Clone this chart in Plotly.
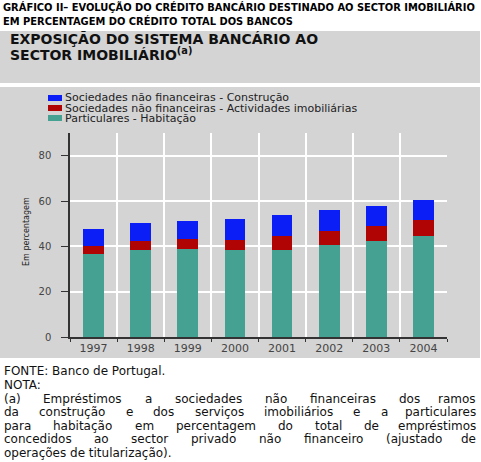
import plotly.graph_objects as go

years = ['1997', '1998', '1999', '2000', '2001', '2002', '2003', '2004']
particulares = [36.7, 38.4, 38.9, 38.5, 38.4, 40.6, 42.5, 44.4]
actividades = [3.4, 3.9, 4.5, 4.3, 6.2, 6.0, 6.6, 7.2]
construcao = [7.6, 8.1, 7.8, 9.1, 9.4, 9.3, 8.9, 8.7]
series_names = ['Particulares - Habitação',
                'Sociedades não financeiras - Actividades imobiliárias',
                'Sociedades não financeiras - Construção']
colors = ['#45a192', '#b00404', '#0a1ef5']
y_ticks = [0, 20, 40, 60, 80]

title_lines = ['GRÁFICO II– EVOLUÇÃO DO CRÉDITO BANCÁRIO DESTINADO AO SECTOR IMOBILIÁRIO',
               'EM PERCENTAGEM DO CRÉDITO TOTAL DOS BANCOS']
panel_title_lines = ['EXPOSIÇÃO DO SISTEMA BANCÁRIO AO', 'SECTOR IMOBILIÁRIO<sup>(a)</sup>']
y_title = 'Em percentagem'
footer_plain = ['FONTE: Banco de Portugal.', 'NOTA:']
footer_just = ['(a) Empréstimos a sociedades não financeiras dos ramos',
               'da construção e dos serviços imobiliários e a particulares',
               'para habitação em percentagem do total de empréstimos',
               'concedidos ao sector privado não financeiro (ajustado de']
footer_last = 'operações de titularização).'

W, H = 481, 462
L, R, T, B = 70, 447, 133, 337
GREY = '#d4d4d4'
FONT = 'DejaVu Sans, Liberation Sans, Arial'


def px(x):
    return (x - L) / (R - L)


def py(y):
    return (B - y) / (B - T)


fig = go.Figure()
for vals, name, col in zip([particulares, actividades, construcao], series_names, colors):
    fig.add_trace(go.Bar(x=years, y=vals, name=name, marker=dict(color=col, line=dict(width=0)),
                         showlegend=False))

shapes = [
    dict(type='rect', xref='paper', yref='paper', x0=px(0), x1=px(480), y0=py(31), y1=py(83),
         fillcolor=GREY, line=dict(width=0), layer='below'),
    dict(type='rect', xref='paper', yref='paper', x0=px(0), x1=px(480), y0=py(87), y1=py(358),
         fillcolor=GREY, line=dict(width=0), layer='below'),
]
annotations = []

# top title
for i, t in enumerate(title_lines):
    annotations.append(dict(text='<b>' + t + '</b>', xref='paper', yref='paper', x=px(1), y=py(8 + 13.5 * i),
                            xanchor='left', yanchor='middle', showarrow=False,
                            font=dict(family='Liberation Sans Narrow, DejaVu Sans Condensed, Arial Narrow',
                                      size=11, color='#000')))
# panel title
for i, t in enumerate(panel_title_lines):
    annotations.append(dict(text='<b>' + t + '</b>', xref='paper', yref='paper', x=px(8), y=py(39 + 14.5 * i),
                            xanchor='left', yanchor='middle', align='left', showarrow=False,
                            font=dict(family=FONT, size=14, color='#111')))

# legend (manual)
leg_rows = [(98, 2), (108, 1), (118, 0)]
for yy, idx in leg_rows:
    shapes.append(dict(type='rect', xref='paper', yref='paper', x0=px(48), x1=px(62),
                       y0=py(yy + 3), y1=py(yy - 3), fillcolor=colors[idx], line=dict(width=0)))
    annotations.append(dict(text=series_names[idx], xref='paper', yref='paper', x=px(63), y=py(yy),
                            xanchor='left', yanchor='middle', showarrow=False,
                            font=dict(family=FONT, size=11, color='#222')))

# y axis title
annotations.append(dict(text=y_title, xref='paper', yref='paper', x=px(26), y=py(232), textangle=-90,
                        xanchor='center', yanchor='middle', showarrow=False,
                        font=dict(family=FONT, size=8, color='#222')))

# footer
FS = 12
WID = {' ': .318, 'a': .613, 'b': .635, 'c': .550, 'd': .635, 'e': .615, 'f': .352, 'g': .635, 'h': .634,
       'i': .278, 'j': .278, 'k': .579, 'l': .278, 'm': .974, 'n': .634, 'o': .612, 'p': .635, 'q': .635,
       'r': .411, 's': .521, 't': .392, 'u': .634, 'v': .592, 'w': .818, 'x': .592, 'y': .592, 'z': .525,
       '(': .390, ')': .390, '.': .318, ',': .318, ':': .337, '-': .361, 'é': .615, 'ã': .613, 'á': .613,
       'ç': .550, 'õ': .612, 'ó': .612, 'E': .632}


def wlen(w):
    return sum(WID.get(c, .6) for c in w) * FS


line_y = [371, 385, 398.5, 412, 425.5, 439, 452.5]
for i, t in enumerate(footer_plain):
    annotations.append(dict(text=t, xref='paper', yref='paper', x=px(2), y=py(line_y[i]), xanchor='left',
                            yanchor='middle', showarrow=False, font=dict(family=FONT, size=FS, color='#111')))
for j, t in enumerate(footer_just):
    words = t.split(' ')
    total = sum(wlen(w) for w in words)
    gap = (478 - 2 - total) / (len(words) - 1)
    xcur = 2
    for k, w in enumerate(words):
        if k == len(words) - 1:
            annotations.append(dict(text=w, xref='paper', yref='paper', x=px(478), y=py(line_y[2 + j]),
                                    xanchor='right', yanchor='middle', showarrow=False,
                                    font=dict(family=FONT, size=FS, color='#111')))
        else:
            annotations.append(dict(text=w, xref='paper', yref='paper', x=px(xcur), y=py(line_y[2 + j]),
                                    xanchor='left', yanchor='middle', showarrow=False,
                                    font=dict(family=FONT, size=FS, color='#111')))
        xcur += wlen(w) + gap
annotations.append(dict(text=footer_last, xref='paper', yref='paper', x=px(2), y=py(line_y[6]), xanchor='left',
                        yanchor='middle', showarrow=False, font=dict(family=FONT, size=FS, color='#111')))

fig.update_layout(
    width=W, height=H, margin=dict(l=L, r=W - R, t=T, b=H - B, pad=0),
    paper_bgcolor='white', plot_bgcolor='rgba(0,0,0,0)',
    barmode='stack', bargap=0.56,
    shapes=shapes, annotations=annotations,
    xaxis=dict(type='category', tickson='boundaries', showgrid=True, gridcolor='white', gridwidth=1.5,
               showline=True, linecolor='#333', linewidth=1.5, ticks='outside', ticklen=3, tickcolor='#333',
               tickfont=dict(family=FONT, size=11, color='#444')),
    yaxis=dict(range=[0, 90], tickvals=y_ticks, showgrid=True, gridcolor='white', gridwidth=1.5,
               zeroline=False, showline=True, linecolor='#333', linewidth=1.5, ticks='outside', ticklen=7,
               tickcolor='#333', tickfont=dict(family=FONT, size=10, color='#444'), ticklabelstandoff=8),
)

fig.write_html('out.html')
